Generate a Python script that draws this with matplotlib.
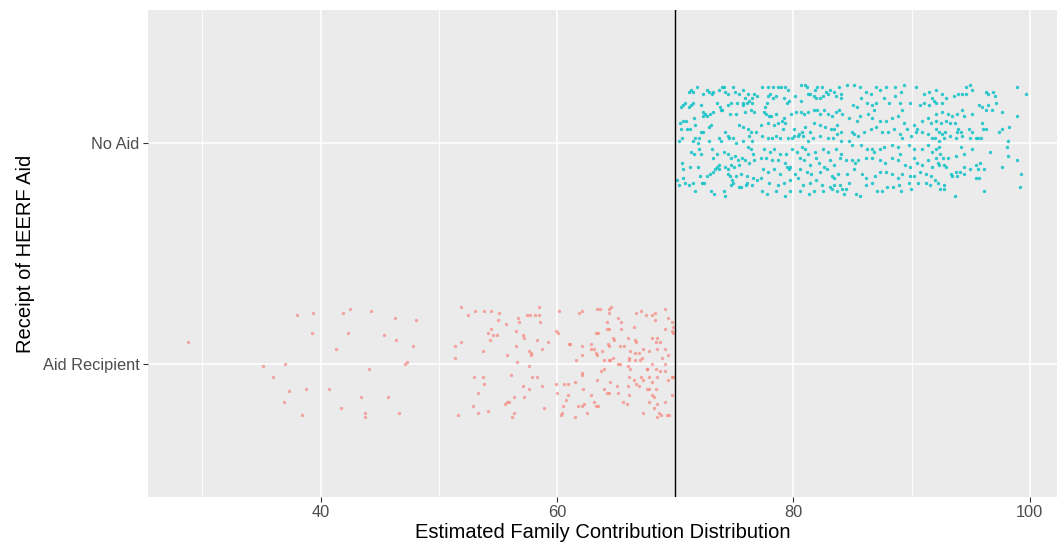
import matplotlib.pyplot as plt

plt.rcParams['font.family'] = ['Liberation Sans', 'DejaVu Sans']

# categories on the y axis (bottom to top)
groups = ["Aid Recipient", "No Aid"]
group_colors = ["#F8766D", "#00BFC4"]
cutoff = 70

# Aid Recipient: contribution values and vertical jitter
red_x = [
    28.8, 38.0, 39.4, 39.3, 35.1, 37.0, 36.0, 37.3, 38.8, 36.9, 38.4,
    41.9, 42.5, 44.3, 46.3, 48.1, 42.3, 45.4, 46.4, 47.8, 41.3, 47.3, 47.15,
    44.1, 40.7, 43.4, 45.7, 41.7, 43.8, 43.8, 46.6,
    51.9, 52.5, 53.1, 53.8, 54.4, 55.1, 55.0, 55.7, 56.7, 56.8,
    57.5, 57.7, 58.1, 58.5, 58.5, 58.6, 60.2, 54.4, 54.2, 54.6,
    54.9, 54.3, 56.5, 57.1, 57.2, 58.3, 59.2, 59.9, 60.1, 61.0,
    51.9, 51.4, 51.4, 53.7, 56.5, 57.6, 58.7, 57.8, 57.8, 55.8, 56.6,
    57.6, 53.0, 53.7, 53.8, 56.1, 57.9, 58.3, 57.1, 57.6, 58.7,
    59.9, 60.6, 60.9, 60.0, 60.9, 53.3, 56.4, 57.2, 55.6, 55.8,
    55.9, 52.9, 54.2, 53.3, 51.6, 56.4, 56.2, 58.9, 60.5, 60.4, 60.3, 60.8,
    61.9, 62.1, 63.4, 63.6, 64.4, 64.6, 64.4, 66.7, 67.1, 67.5,
    68.0, 68.3, 69.1, 69.4, 68.3, 65.2, 65.4, 65.4, 64.2, 64.2,
    64.4, 63.3, 63.5, 66.5, 69.7, 69.8, 69.7, 69.8, 69.1, 68.0,
    68.5, 68.7, 68.4, 66.6, 66.7, 66.0, 64.7, 64.8, 64.3, 64.4,
    62.9, 63.1, 62.9, 61.1, 62.1, 63.8, 63.3, 63.4, 65.3, 65.7,
    66.2, 66.6, 66.9, 67.3, 67.2, 67.0, 66.1, 66.1, 66.6, 64.4,
    64.5, 64.7, 64.0, 61.6, 62.1, 67.8, 68.5, 69.1, 69.4, 68.9,
    65.2, 65.3, 66.0, 66.2, 68.0, 69.1, 67.6, 67.6, 68.4, 68.7,
    69.1, 63.7, 64.0, 62.1, 62.1, 63.4, 61.5, 64.5, 66.1, 66.5,
    66.7, 66.9, 67.1, 67.3, 67.8, 68.0, 68.5, 69.4, 69.7, 69.8,
    66.0, 67.6, 67.8, 68.4, 64.0, 65.1, 62.2, 64.2, 64.4, 65.2,
    66.1, 62.9, 68.0, 68.2, 69.7, 63.1, 63.3, 63.5, 65.6, 65.9,
    62.3, 62.1, 61.8, 67.8, 68.5, 69.1, 68.2, 68.6, 68.8, 68.5,
    69.3, 69.5, 67.3, 62.5, 61.5,
]
red_jit = [
    0.10, 0.22, 0.23, 0.14, -0.01, 0.00, -0.06, -0.12, -0.11, -0.17, -0.23,
    0.23, 0.25, 0.24, 0.21, 0.20, 0.14, 0.13, 0.11, 0.08, 0.07, 0.01, 0.00,
    -0.02, -0.11, -0.15, -0.15, -0.20, -0.22, -0.24, -0.22,
    0.26, 0.22, 0.24, 0.24, 0.24, 0.23, 0.20, 0.18, 0.21, 0.19,
    0.22, 0.22, 0.22, 0.26, 0.22, 0.19, 0.24, 0.16, 0.14, 0.13,
    0.13, 0.11, 0.15, 0.13, 0.12, 0.11, 0.10, 0.15, 0.14, 0.09,
    0.10, 0.08, 0.03, 0.06, 0.08, 0.06, 0.07, 0.05, 0.04, 0.04, 0.01,
    -0.01, -0.06, -0.06, -0.09, -0.05, -0.06, -0.06, -0.10, -0.11, -0.10,
    -0.09, -0.09, -0.09, -0.13, -0.14, -0.13, -0.15, -0.15, -0.18, -0.17,
    -0.17, -0.19, -0.21, -0.22, -0.23, -0.22, -0.24, -0.20, -0.19, -0.22, -0.23, -0.16,
    0.23, 0.24, 0.25, 0.25, 0.25, 0.26, 0.23, 0.23, 0.24, 0.22,
    0.22, 0.23, 0.25, 0.21, 0.20, 0.21, 0.19, 0.16, 0.19, 0.16,
    0.16, 0.14, 0.14, 0.17, 0.19, 0.17, 0.15, 0.14, 0.16, 0.12,
    0.12, 0.10, 0.10, 0.11, 0.10, 0.12, 0.12, 0.11, 0.09, 0.08,
    0.09, 0.07, 0.07, 0.09, 0.08, 0.06, 0.05, 0.04, 0.08, 0.08,
    0.06, 0.05, 0.05, 0.07, 0.03, 0.02, 0.03, 0.02, 0.02, 0.02,
    0.02, 0.03, 0.02, 0.02, 0.04, 0.06, 0.07, 0.07, 0.04, 0.03,
    0.00, 0.00, -0.01, -0.02, 0.00, 0.00, -0.02, -0.02, -0.02, -0.03,
    -0.03, -0.03, -0.02, -0.04, -0.05, -0.07, -0.08, -0.08, -0.06, -0.07,
    -0.09, -0.10, -0.06, -0.07, -0.06, -0.08, -0.06, -0.07, -0.06, -0.06,
    -0.10, -0.11, -0.11, -0.11, -0.11, -0.10, -0.11, -0.13, -0.13, -0.13,
    -0.14, -0.14, -0.14, -0.15, -0.14, -0.17, -0.19, -0.19, -0.17, -0.18,
    -0.18, -0.19, -0.19, -0.17, -0.18, -0.17, -0.20, -0.22, -0.23, -0.24,
    -0.23, -0.23, -0.22, -0.22, -0.24,
]

# No Aid: contribution values and vertical jitter
blue_x = [
    71.19, 71.36, 71.53, 71.87, 72.32, 72.71, 72.88, 73.11, 73.16, 73.73, 73.95, 74.12, 74.18,
    74.46, 74.85, 75.08, 75.42, 75.76, 75.87, 75.76, 76.26, 76.49, 76.15, 76.71, 76.94,
    70.63, 70.51, 70.80, 71.19, 71.36, 71.47, 72.21, 73.50, 73.78, 73.95, 74.46, 74.74, 75.25, 75.70, 76.04, 76.49,
    70.40, 70.68, 70.91, 71.59, 72.37, 72.54, 72.66, 72.32, 72.94, 73.22, 73.90, 74.68, 75.14, 75.87, 76.38, 76.66,
    70.51, 70.97, 71.25, 71.70, 72.15, 72.32, 72.82, 73.05, 74.23, 74.46, 75.36, 75.76, 76.15, 76.38, 76.83,
    70.35, 70.57, 71.53, 71.70, 71.98, 71.92, 72.82, 73.67, 73.90, 74.57, 74.91, 75.14, 75.70, 76.21, 76.49,
    71.36, 71.59, 71.98, 72.15, 73.11, 73.50, 74.12, 74.46, 74.74, 75.02, 75.30, 75.64, 75.92, 76.15, 76.43, 76.60,
    70.57, 70.68, 71.25, 71.92, 73.16, 73.73, 73.67, 73.50, 74.18, 74.46, 74.74, 74.97, 75.42, 76.26, 76.71,
    70.63, 72.09, 72.71, 72.94, 73.16, 73.39, 74.46, 74.68, 74.80, 75.14, 75.53, 76.04, 76.60,
    70.12, 70.35, 70.85, 71.19, 71.53, 71.64, 72.26, 72.43, 72.99, 73.28, 74.12, 74.18, 74.74, 74.91, 75.36,
    75.53, 75.98, 76.04, 76.54, 76.88,
    77.31, 77.82, 78.27, 78.66, 78.94, 79.28, 79.51, 80.63, 80.97, 81.14, 81.42, 81.87, 82.04, 82.44, 82.72,
    83.06, 83.40, 83.90, 84.07,
    77.99, 77.82, 77.76, 77.59, 78.27, 78.55, 79.23, 79.45, 79.62, 80.13, 80.63, 81.20, 81.71, 81.93, 82.27,
    82.49, 82.95, 83.62, 84.07,
    77.48, 77.70, 77.93, 78.10, 78.49, 79.00, 79.17, 79.28, 79.79, 80.24, 80.63, 80.92, 81.25, 81.71, 82.04,
    82.21, 82.55, 82.95, 83.28, 83.57, 83.90, 84.13,
    77.25, 77.82, 78.38, 78.72, 79.11, 80.01, 80.35, 80.69, 80.97, 81.37, 81.76, 82.21, 82.66, 83.17, 83.45,
    83.73, 84.07,
    77.31, 77.82, 78.16, 78.55, 78.89, 79.51, 79.85, 80.07, 80.47, 80.80, 81.25, 81.65, 82.27, 82.89, 83.34,
    83.68, 84.07,
    77.54, 77.99, 78.38, 78.89, 79.34, 79.85, 80.30, 80.75, 80.97, 81.20, 81.87, 82.49, 82.95, 83.62, 84.07,
    77.25, 77.70, 78.21, 78.66, 79.28, 79.45, 79.73, 80.58, 80.92, 81.42, 81.93, 82.16, 82.61, 83.11, 83.45, 83.96,
    77.42, 77.87, 78.32, 78.83, 79.62, 80.13, 80.52, 81.14, 81.48, 82.21, 82.83, 83.23, 83.40, 83.79,
    77.25, 77.93, 78.66, 79.23, 79.68, 80.35, 80.80, 81.42, 81.93, 82.44, 83.06, 83.45, 83.96, 84.13,
    77.31, 77.76, 78.49, 79.28, 79.68, 80.58, 81.31, 81.71, 82.49, 83.28, 83.73,
    84.55, 85.11, 85.62, 86.12, 86.58, 86.97, 87.36, 87.87, 88.60, 89.11, 89.39, 90.41, 91.03, 91.48, 91.76,
    85.05, 85.34, 85.73, 86.24, 86.63, 86.80, 86.97, 87.65, 88.10, 88.60, 89.05, 89.22, 89.90, 90.69, 91.08, 91.48,
    84.72, 85.34, 85.67, 86.35, 86.69, 87.31, 87.81, 88.38, 88.89, 89.39, 89.62, 90.24, 90.46, 90.91, 91.37, 91.65,
    85.00, 85.17, 85.50, 86.01, 86.58, 86.97, 87.53, 88.04, 88.49, 89.05, 89.22, 89.96, 90.41, 90.86, 91.37, 91.70,
    84.72, 85.00, 85.73, 86.24, 86.63, 86.80, 87.31, 87.65, 88.38, 88.83, 89.05, 89.79, 90.24, 90.86, 91.37, 91.76,
    84.49, 84.94, 85.22, 85.50, 86.18, 86.69, 87.36, 87.76, 88.32, 88.89, 89.45, 89.90, 90.24, 90.46, 90.91,
    91.37, 91.70,
    84.55, 85.11, 85.84, 86.18, 86.91, 87.36, 87.81, 88.38, 88.89, 89.22, 89.84, 90.18, 90.75, 91.25, 91.65,
    84.43, 84.32, 84.72, 85.28, 85.67, 86.12, 86.63, 87.08, 87.53, 87.93, 88.43, 88.94, 89.11, 89.79, 89.96,
    90.58, 91.25, 91.59,
    92.04, 91.93, 92.04, 92.61, 92.55, 92.95, 93.62, 93.96, 94.30, 94.64, 94.58, 94.97, 95.14, 96.33, 96.44,
    96.89, 97.06, 98.92, 99.65,
    92.04, 92.61, 93.06, 93.45, 93.85, 94.30, 94.47, 95.09, 95.71, 95.99, 96.27, 96.50, 96.83, 97.17, 97.62, 98.92,
    92.04, 92.49, 92.89, 93.23, 93.68, 93.90, 93.85, 94.18, 94.86, 95.14, 95.93, 96.04, 96.33, 97.40, 97.62,
    98.24, 92.10,
    92.33, 92.55, 92.83, 91.99, 92.33, 92.78, 93.28, 93.79, 94.30, 94.97, 95.42, 95.65, 95.88, 98.19,
    92.04, 92.33, 92.44, 92.04, 92.21, 92.66, 93.11, 93.73, 94.18, 94.47, 95.09, 96.66, 98.07, 98.13, 98.92,
    92.33, 92.72, 92.95, 93.34, 93.73, 94.13, 94.47, 94.97, 95.42, 95.76, 95.65, 96.16, 97.62,
    91.99, 92.27, 92.72, 93.45, 93.85, 94.41, 95.42, 95.71, 99.26,
    92.38, 92.72, 93.68, 96.16, 99.14,
]
blue_jit = [
    0.23, 0.24, 0.23, 0.25, 0.22, 0.24, 0.23, 0.22, 0.23, 0.24, 0.25, 0.25, 0.23,
    0.22, 0.25, 0.23, 0.22, 0.24, 0.20, 0.18, 0.19, 0.20, 0.22, 0.22, 0.21,
    0.17, 0.16, 0.18, 0.16, 0.17, 0.18, 0.17, 0.18, 0.16, 0.15, 0.17, 0.18, 0.18, 0.17, 0.18, 0.18,
    0.09, 0.10, 0.10, 0.11, 0.14, 0.13, 0.12, 0.12, 0.13, 0.14, 0.15, 0.13, 0.13, 0.14, 0.15, 0.14,
    0.06, 0.06, 0.06, 0.08, 0.05, 0.05, 0.07, 0.08, 0.05, 0.03, 0.08, 0.07, 0.06, 0.05, 0.05,
    0.01, 0.02, 0.01, 0.02, 0.02, 0.00, 0.01, 0.02, 0.01, 0.02, 0.02, 0.00, 0.01, 0.03, 0.01,
    -0.04, -0.05, -0.03, -0.05, -0.03, -0.05, -0.04, -0.05, -0.07, -0.06, -0.08, -0.07, -0.08, -0.02, -0.03, -0.05,
    -0.09, -0.12, -0.11, -0.11, -0.07, -0.10, -0.12, -0.11, -0.11, -0.12, -0.10, -0.11, -0.10, -0.09, -0.08,
    -0.16, -0.15, -0.15, -0.14, -0.13, -0.12, -0.14, -0.15, -0.17, -0.15, -0.14, -0.15, -0.16,
    -0.17, -0.19, -0.18, -0.19, -0.18, -0.22, -0.18, -0.18, -0.22, -0.23, -0.22, -0.24, -0.19, -0.18, -0.20,
    -0.20, -0.19, -0.18, -0.19, -0.17,
    0.25, 0.25, 0.25, 0.25, 0.25, 0.25, 0.24, 0.26, 0.26, 0.25, 0.22, 0.24, 0.25, 0.25, 0.23,
    0.24, 0.23, 0.25, 0.22,
    0.22, 0.21, 0.18, 0.16, 0.20, 0.21, 0.20, 0.18, 0.19, 0.21, 0.19, 0.22, 0.21, 0.20, 0.20,
    0.21, 0.22, 0.21, 0.20,
    0.14, 0.13, 0.12, 0.12, 0.13, 0.10, 0.11, 0.09, 0.13, 0.14, 0.14, 0.13, 0.14, 0.15, 0.15,
    0.13, 0.15, 0.13, 0.12, 0.14, 0.15, 0.13,
    0.08, 0.09, 0.08, 0.09, 0.06, 0.06, 0.03, 0.05, 0.07, 0.05, 0.09, 0.08, 0.07, 0.06, 0.06,
    0.08, 0.05,
    0.03, 0.02, 0.02, 0.03, 0.02, 0.02, 0.02, 0.03, 0.04, 0.03, 0.01, 0.02, 0.03, 0.02, 0.02,
    0.04, 0.01,
    -0.03, -0.04, -0.03, -0.05, -0.05, -0.03, -0.04, -0.02, -0.03, -0.05, -0.04, -0.03, -0.04, -0.03, -0.05,
    -0.07, -0.07, -0.08, -0.08, -0.09, -0.11, -0.11, -0.07, -0.08, -0.10, -0.07, -0.09, -0.11, -0.08, -0.10, -0.07,
    -0.12, -0.13, -0.12, -0.14, -0.12, -0.14, -0.12, -0.13, -0.14, -0.13, -0.12, -0.15, -0.16, -0.14,
    -0.16, -0.18, -0.19, -0.18, -0.17, -0.16, -0.19, -0.18, -0.17, -0.19, -0.20, -0.19, -0.19, -0.21,
    -0.22, -0.23, -0.22, -0.24, -0.22, -0.22, -0.23, -0.22, -0.22, -0.21, -0.22,
    0.26, 0.26, 0.25, 0.23, 0.22, 0.25, 0.24, 0.25, 0.25, 0.23, 0.26, 0.25, 0.22, 0.23, 0.20,
    0.17, 0.16, 0.20, 0.18, 0.17, 0.15, 0.18, 0.20, 0.18, 0.21, 0.18, 0.15, 0.18, 0.17, 0.18, 0.17,
    0.11, 0.10, 0.12, 0.13, 0.11, 0.10, 0.10, 0.11, 0.12, 0.09, 0.06, 0.08, 0.06, 0.10, 0.11, 0.09,
    0.05, 0.04, 0.03, 0.05, 0.06, 0.07, 0.05, 0.05, 0.06, 0.04, 0.02, 0.03, 0.05, 0.05, 0.04, 0.02,
    0.01, -0.01, -0.01, -0.03, -0.03, -0.04, -0.03, -0.02, -0.01, -0.02, -0.05, -0.01, -0.03, -0.03, -0.01, -0.04,
    -0.08, -0.08, -0.09, -0.08, -0.07, -0.07, -0.08, -0.09, -0.07, -0.08, -0.10, -0.11, -0.07, -0.09, -0.10,
    -0.08, -0.11,
    -0.14, -0.12, -0.14, -0.16, -0.15, -0.13, -0.13, -0.14, -0.16, -0.14, -0.15, -0.15, -0.13, -0.14, -0.15,
    -0.21, -0.23, -0.18, -0.23, -0.24, -0.19, -0.18, -0.22, -0.22, -0.20, -0.20, -0.19, -0.22, -0.18, -0.21,
    -0.18, -0.18, -0.19,
    0.24, 0.19, 0.18, 0.22, 0.18, 0.20, 0.21, 0.22, 0.22, 0.22, 0.25, 0.26, 0.24, 0.23, 0.22,
    0.23, 0.21, 0.25, 0.22,
    0.13, 0.14, 0.13, 0.12, 0.13, 0.15, 0.12, 0.13, 0.17, 0.16, 0.15, 0.17, 0.15, 0.18, 0.14, 0.12,
    0.10, 0.09, 0.10, 0.09, 0.09, 0.06, 0.05, 0.05, 0.06, 0.05, 0.09, 0.06, 0.06, 0.05, 0.06,
    0.07, 0.06,
    0.05, 0.04, 0.05, 0.02, 0.01, 0.02, 0.03, 0.02, 0.03, 0.02, 0.02, 0.02, 0.02, 0.01,
    -0.03, -0.02, -0.05, -0.07, -0.09, -0.07, -0.07, -0.06, -0.02, -0.05, -0.03, -0.04, -0.02, -0.06, -0.08,
    -0.10, -0.10, -0.11, -0.14, -0.13, -0.13, -0.11, -0.12, -0.10, -0.09, -0.12, -0.12, -0.11,
    -0.17, -0.18, -0.19, -0.15, -0.15, -0.14, -0.16, -0.16, -0.14,
    -0.21, -0.21, -0.24, -0.22, -0.20,
]

assert len(red_x) == len(red_jit), (len(red_x), len(red_jit))
assert len(blue_x) == len(blue_jit), (len(blue_x), len(blue_jit))

fig = plt.figure(figsize=(10.61, 5.51), dpi=100)
ax = fig.add_axes([0.1395, 0.098, 0.8567, 0.884])
ax.set_facecolor('#EBEBEB')

# grid like ggplot
for v in [30, 50, 70, 90]:
    ax.axvline(v, color='white', lw=0.6, zorder=0)
for v in [40, 60, 80, 100]:
    ax.axvline(v, color='white', lw=1.1, zorder=0)
for v in [1, 2]:
    ax.axhline(v, color='white', lw=1.1, zorder=0)

ax.scatter(red_x, [1 + j for j in red_jit], s=6, color=group_colors[0],
           alpha=0.6, linewidths=0, zorder=2)
ax.scatter(blue_x, [2 + j for j in blue_jit], s=6, color=group_colors[1],
           alpha=0.8, linewidths=0, zorder=2)

ax.axvline(cutoff, color='black', lw=1.0, zorder=3)

ax.set_xlim(25.4, 102.3)
ax.set_ylim(0.4, 2.6)
ax.set_xticks([40, 60, 80, 100])
ax.set_yticks([1, 2])
ax.set_yticklabels(groups)

for s in ax.spines.values():
    s.set_visible(False)
ax.tick_params(axis='both', colors='#333333', length=3.5, width=0.8,
               labelcolor='#4D4D4D', labelsize=11.8, pad=2.5)

ax.set_xlabel('Estimated Family Contribution Distribution', fontsize=14.5, labelpad=2)
ax.set_ylabel('Receipt of HEERF Aid', fontsize=14.5, labelpad=6)

fig.savefig('out.png', dpi=100)
